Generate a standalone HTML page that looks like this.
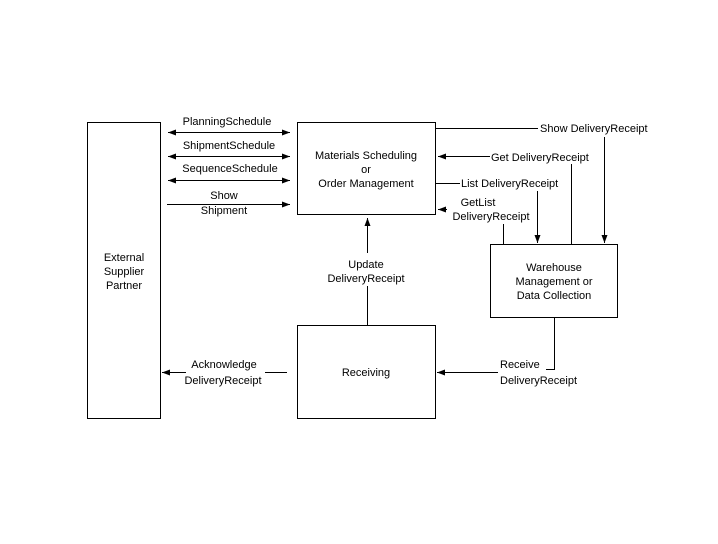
<!DOCTYPE html>
<html><head><style>
html,body{margin:0;padding:0;background:#fff;}
svg text{font-family:"Liberation Sans",sans-serif;font-size:11px;fill:#000;}
</style></head><body>
<svg width="718" height="539" viewBox="0 0 718 539" xmlns="http://www.w3.org/2000/svg">
<defs>
<marker id="a" markerWidth="8" markerHeight="6" refX="8" refY="3" orient="auto" markerUnits="userSpaceOnUse"><path d="M0,0 L8,3 L0,6 z" fill="#000"/></marker>
<marker id="s" markerWidth="8" markerHeight="6" refX="0" refY="3" orient="auto" markerUnits="userSpaceOnUse"><path d="M8,0 L0,3 L8,6 z" fill="#000"/></marker>
</defs>
<g fill="none" stroke="#000" stroke-width="1">
<rect x="87.5" y="122.5" width="73" height="296"/>
<rect x="297.5" y="122.5" width="138" height="92"/>
<rect x="490.5" y="244.5" width="127" height="73"/>
<rect x="297.5" y="325.5" width="138" height="93"/>
<line x1="168" y1="132.5" x2="290" y2="132.5" marker-start="url(#s)" marker-end="url(#a)"/>
<line x1="168" y1="156.5" x2="290" y2="156.5" marker-start="url(#s)" marker-end="url(#a)"/>
<line x1="168" y1="180.5" x2="290" y2="180.5" marker-start="url(#s)" marker-end="url(#a)"/>
<line x1="167" y1="204.5" x2="290" y2="204.5" marker-end="url(#a)"/>
<line x1="436" y1="128.5" x2="538" y2="128.5"/>
<line x1="604.5" y1="137" x2="604.5" y2="243" marker-end="url(#a)"/>
<line x1="490" y1="156.5" x2="438" y2="156.5" marker-end="url(#a)"/>
<line x1="571.5" y1="164" x2="571.5" y2="244"/>
<line x1="436" y1="183.5" x2="460" y2="183.5"/>
<line x1="537.5" y1="191" x2="537.5" y2="243" marker-end="url(#a)"/>
<line x1="447" y1="209.5" x2="438" y2="209.5" marker-end="url(#a)"/>
<line x1="503.5" y1="224" x2="503.5" y2="244"/>
<line x1="367.5" y1="325" x2="367.5" y2="286"/>
<line x1="367.5" y1="253" x2="367.5" y2="218" marker-end="url(#a)"/>
<line x1="186" y1="372.5" x2="162" y2="372.5" marker-end="url(#a)"/>
<line x1="265" y1="372.5" x2="287" y2="372.5"/>
<line x1="498" y1="372.5" x2="437" y2="372.5" marker-end="url(#a)"/>
<polyline points="554.5,318 554.5,369.5 546,369.5"/>
</g>
<text x="124" y="261" text-anchor="middle">External</text>
<text x="124" y="275" text-anchor="middle">Supplier</text>
<text x="124" y="289" text-anchor="middle">Partner</text>
<text x="366" y="159" text-anchor="middle">Materials Scheduling</text>
<text x="366" y="173" text-anchor="middle">or</text>
<text x="366" y="187" text-anchor="middle">Order Management</text>
<text x="554" y="271" text-anchor="middle">Warehouse</text>
<text x="554" y="285" text-anchor="middle">Management or</text>
<text x="554" y="299" text-anchor="middle">Data Collection</text>
<text x="366" y="376" text-anchor="middle">Receiving</text>
<text x="227" y="125" text-anchor="middle">PlanningSchedule</text>
<text x="229" y="149" text-anchor="middle">ShipmentSchedule</text>
<text x="230" y="172" text-anchor="middle">SequenceSchedule</text>
<text x="224" y="199" text-anchor="middle">Show</text>
<text x="224" y="214" text-anchor="middle">Shipment</text>
<text x="540" y="132">Show DeliveryReceipt</text>
<text x="491" y="161">Get DeliveryReceipt</text>
<text x="461" y="187">List DeliveryReceipt</text>
<text x="478" y="206" text-anchor="middle">GetList</text>
<text x="491" y="220" text-anchor="middle">DeliveryReceipt</text>
<text x="366" y="268" text-anchor="middle">Update</text>
<text x="366" y="282" text-anchor="middle">DeliveryReceipt</text>
<text x="224" y="368" text-anchor="middle">Acknowledge</text>
<text x="223" y="384" text-anchor="middle">DeliveryReceipt</text>
<text x="500" y="368">Receive</text>
<text x="500" y="384">DeliveryReceipt</text>
</svg>
</body></html>
